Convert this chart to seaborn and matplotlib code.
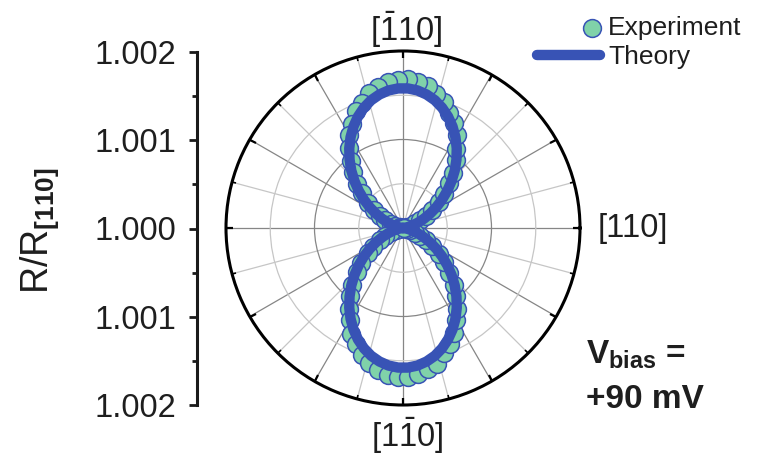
import numpy as np
import pandas as pd
import matplotlib
matplotlib.use("Agg")
import matplotlib.pyplot as plt
import seaborn as sns
from matplotlib.legend_handler import HandlerPathCollection
from matplotlib.ticker import NullFormatter

# ---------------- data (deviation of R/R[110] from 1, in units of 1e-3) ----------------
exp_angle_deg = list(range(0, 360, 4))
exp_values = [
    0.00, 0.01, 0.02, 0.05, 0.09, 0.15, 0.21, 0.30, 0.38, 0.50, 0.60, 0.73, 0.84, 0.98, 1.08,
    1.21, 1.32, 1.40, 1.50, 1.56, 1.63, 1.66, 1.68, 1.67, 1.66, 1.62, 1.57, 1.49, 1.42, 1.31,
    1.21, 1.09, 0.96, 0.85, 0.72, 0.61, 0.49, 0.39, 0.29, 0.22, 0.14, 0.09, 0.04, 0.02, 0.00,
    0.00, 0.01, 0.02, 0.05, 0.08, 0.14, 0.22, 0.29, 0.40, 0.49, 0.62, 0.72, 0.86, 0.97, 1.10,
    1.20, 1.33, 1.41, 1.51, 1.57, 1.63, 1.67, 1.69, 1.68, 1.66, 1.62, 1.58, 1.49, 1.41, 1.32,
    1.20, 1.10, 0.97, 0.86, 0.73, 0.60, 0.50, 0.38, 0.30, 0.21, 0.15, 0.08, 0.05, 0.02, 0.01,
]

theory_angle_deg = list(range(0, 361, 4))
theory_values = [
    0.000, 0.008, 0.031, 0.068, 0.120, 0.185, 0.261, 0.348, 0.444, 0.546, 0.653, 0.762,
    0.873, 0.981, 1.086, 1.185, 1.276, 1.358, 1.429, 1.488, 1.532, 1.563, 1.578,
    1.578, 1.563, 1.532, 1.488, 1.429, 1.358, 1.276, 1.185, 1.086, 0.981, 0.873, 0.762,
    0.653, 0.546, 0.444, 0.348, 0.261, 0.185, 0.120, 0.068, 0.031, 0.008,
    0.000, 0.008, 0.031, 0.068, 0.120, 0.185, 0.261, 0.348, 0.444, 0.546, 0.653, 0.762,
    0.873, 0.981, 1.086, 1.185, 1.276, 1.358, 1.429, 1.488, 1.532, 1.563, 1.578,
    1.578, 1.563, 1.532, 1.488, 1.429, 1.358, 1.276, 1.185, 1.086, 0.981, 0.873, 0.762,
    0.653, 0.546, 0.444, 0.348, 0.261, 0.185, 0.120, 0.068, 0.031, 0.008,
    0.000,
]

radial_axis_ticks = [-2, -1, 0, 1, 2]
radial_axis_labels = ["1.002", "1.001", "1.000", "1.001", "1.002"]
legend_labels = ["Experiment", "Theory"]
dir_labels = [r"$[\bar{1}10]$", "[110]", r"$[1\bar{1}0]$"]

# ---------------- style ----------------
sns.set_style("white")
plt.rcParams["font.family"] = ["Liberation Sans", "DejaVu Sans"]
plt.rcParams["mathtext.fontset"] = "custom"
plt.rcParams["mathtext.rm"] = "Liberation Sans"
plt.rcParams["mathtext.it"] = "Liberation Sans:italic"
plt.rcParams["mathtext.bf"] = "Liberation Sans:bold"
plt.rcParams["xtick.bottom"] = True
plt.rcParams["xtick.top"] = True
plt.rcParams["ytick.left"] = True

GREEN = "#80d2a9"
BLUE = "#3853b5"
TXT = "#1e1e1e"

W, H = 759, 458
fig = plt.figure(figsize=(W / 100, H / 100), dpi=100)

# polar axes: centre (403,228), radius 177 px
cx, cy, R = 403, 228, 177
ax = fig.add_axes([(cx - R) / W, (H - cy - R) / H, 2 * R / W, 2 * R / H], projection="polar")

exp_df = pd.DataFrame({"theta": np.deg2rad(exp_angle_deg), "r": exp_values})
th_df = pd.DataFrame({"theta": np.deg2rad(theory_angle_deg), "r": theory_values})

sns.scatterplot(data=exp_df, x="theta", y="r", ax=ax, s=165, color=GREEN,
                edgecolor=BLUE, linewidth=1.1, zorder=2, legend=False)
sns.lineplot(data=th_df, x="theta", y="r", ax=ax, sort=False, estimator=None,
             color=BLUE, linewidth=7.5, zorder=3, legend=False, solid_capstyle="round")
ax.set_xlabel("")
ax.set_ylabel("")
ax.set_ylim(0, 2)

ax.set_xticks(np.deg2rad(np.arange(0, 360, 30)))
ax.set_xticks(np.deg2rad(np.arange(15, 360, 30)), minor=True)
ax.set_xticklabels([])
ax.xaxis.set_minor_formatter(NullFormatter())
ax.set_yticks([1.0])
ax.set_yticks([0.5, 1.5], minor=True)
ax.set_yticklabels([])
ax.yaxis.set_minor_formatter(NullFormatter())
ax.grid(True, which="major", color="#868686", linewidth=0.9)
ax.grid(True, which="minor", color="#c6c6c6", linewidth=0.9)
ax.tick_params(axis="x", which="major", bottom=True, top=True, direction="in",
               length=5, width=1.6, color="black", pad=0)
ax.tick_params(axis="x", which="minor", bottom=True, top=True, direction="in",
               length=3, width=1.2, color="black", pad=0)
ax.tick_params(axis="y", which="both", length=0)
ax.spines["polar"].set_linewidth(2.2)
ax.spines["polar"].set_color("black")
ax.set_axisbelow(True)

# left radial scale axis
ax2 = fig.add_axes([197 / W, (H - 405) / H, 0.0005, 353 / H])
ax2.set_ylim(-2, 2)
ax2.set_yticks(radial_axis_ticks)
ax2.set_yticklabels(radial_axis_labels, fontsize=23.5, color=TXT)
ax2.set_yticks([-1.5, -0.5, 0.5, 1.5], minor=True)
ax2.yaxis.set_minor_formatter(NullFormatter())
ax2.tick_params(axis="y", which="major", left=True, direction="out", length=6, width=2.0,
                pad=9, color="#1a1a1a")
ax2.tick_params(axis="y", which="minor", left=True, direction="out", length=3.5, width=2.0,
                color="#1a1a1a")
ax2.set_xticks([])
for s in ["top", "right", "bottom"]:
    ax2.spines[s].set_visible(False)
ax2.spines["left"].set_linewidth(2.2)
ax2.spines["left"].set_color("#1a1a1a")
ax2.patch.set_alpha(0)

fig.text(40 / W, 1 - 231 / H, r"R/R$_{\mathbf{[110]}}$", rotation=90, fontsize=27,
         ha="center", va="center", color=TXT)

# direction labels
fig.text(406 / W, 1 - 30 / H, dir_labels[0], fontsize=23.5, ha="center", va="center", color=TXT)
fig.text(633 / W, 1 - 228 / H, dir_labels[1], fontsize=23.5, ha="center", va="center", color=TXT)
fig.text(407 / W, 1 - 436 / H, dir_labels[2], fontsize=23.5, ha="center", va="center", color=TXT)

# bias annotation
fig.text(586 / W, 1 - 364 / H, r"$\mathbf{V}_{\mathbf{bias}}$ =", fontsize=24, fontweight="bold",
         ha="left", va="baseline", color=TXT)
fig.text(586 / W, 1 - 408 / H, "+90 mV", fontsize=24, fontweight="bold",
         ha="left", va="baseline", color=TXT)


# legend: marker drawn at the right end of the handle
class RightMarkerHandler(HandlerPathCollection):
    def get_xdata(self, legend, xdescent, ydescent, width, height, fontsize):
        x = [-xdescent + width - 0.3 * fontsize]
        return x, x


exp_h = ax.collections[0]
th_h = ax.lines[0]
fig.legend([exp_h, th_h], legend_labels, loc="upper left",
           bbox_to_anchor=(537 / W, 1 - 16 / H), frameon=False, fontsize=19,
           handlelength=2.4, handletextpad=0.3, borderpad=0, borderaxespad=0,
           labelspacing=0.2, handler_map={exp_h: RightMarkerHandler()},
           labelcolor=TXT)

fig.savefig("out.png", dpi=100)
